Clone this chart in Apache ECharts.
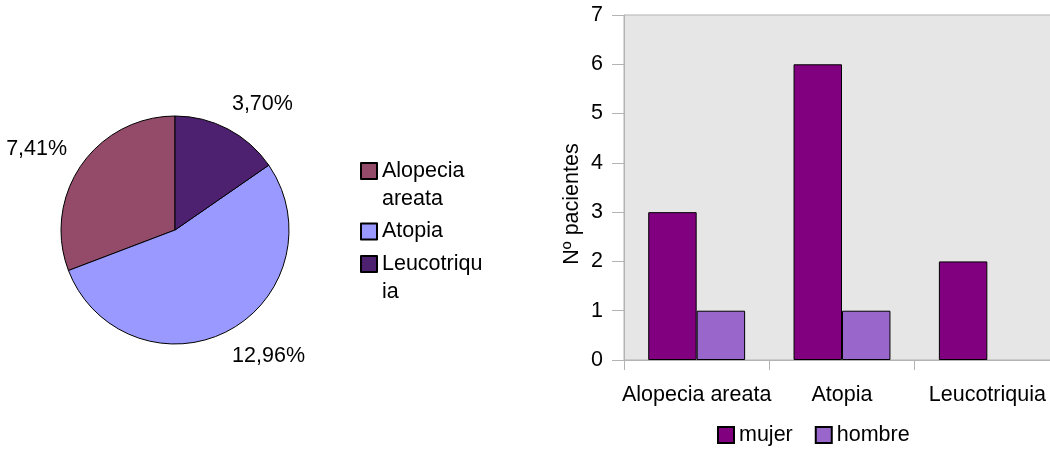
<!DOCTYPE html>
<html>
<head>
<meta charset="utf-8">
<script src="https://cdn.jsdelivr.net/npm/echarts@6/dist/echarts.min.js"></script>
<style>
  html, body { margin: 0; padding: 0; background: #ffffff; }
  #chart { width: 1050px; height: 452px; }
</style>
</head>
<body>
<div id="chart"></div>
<script>
// Pie: share of patients (%) per condition
const conditions = ['Alopecia areata', 'Atopia', 'Leucotriquia'];
const sharePct = [7.41, 12.96, 3.70];
const conditionColors = ['#944a69', '#9999ff', '#4e2070'];

// Bars: number of patients per condition and sex
const barCategories = ['Alopecia areata', 'Atopia', 'Leucotriquia'];
const mujer = [3, 6, 2];
const hombre = [1, 1, null];
const yTicks = [0, 1, 2, 3, 4, 5, 6, 7];

const FONT = '"Liberation Sans", Arial, sans-serif';
const FS = 21.5;
const LINE_H = 28;

// wrap long legend names onto two lines (at a space if possible)
function wrapName(name, maxChars) {
  if (name.length <= maxChars) return name;
  const cut = name.lastIndexOf(' ', maxChars);
  if (cut > 0) return name.slice(0, cut) + '\n' + name.slice(cut + 1);
  return name.slice(0, maxChars) + '\n' + name.slice(maxChars);
}

// one legend block per condition, stacked in the middle column;
// a wrapped name gets an empty leading line so its first line sits level with the swatch
const pieLegendTops = [129, 217.5, 222];
const pieLegends = conditions.map((c, i) => ({
  data: [c],
  orient: 'vertical',
  left: 360,
  top: pieLegendTops[i],
  padding: 0,
  itemWidth: 16,
  itemHeight: 16,
  icon: 'rect',
  formatter: (n) => {
    const w = wrapName(n, 10);
    return w.indexOf('\n') >= 0 ? '\n' + w : w;
  },
  textStyle: { fontSize: FS, color: '#000', lineHeight: LINE_H, fontFamily: FONT }
}));

const chart = echarts.init(document.getElementById('chart'), null, { renderer: 'canvas' });

chart.setOption({
  animation: false,
  backgroundColor: '#ffffff',
  textStyle: { fontFamily: FONT, color: '#000000' },
  legend: pieLegends.concat([
    {
      data: ['mujer', 'hombre'],
      orient: 'horizontal',
      left: 717,
      top: 424,
      padding: 0,
      itemGap: 22,
      itemWidth: 16,
      itemHeight: 16,
      icon: 'rect',
      textStyle: { fontSize: FS, color: '#000', fontFamily: FONT }
    }
  ]),
  grid: {
    left: 624,
    top: 15,
    width: 436,
    height: 345,
    outerBoundsMode: 'none',
    show: true,
    backgroundColor: '#e6e6e6',
    borderColor: '#b3b3b3',
    borderWidth: 1
  },
  xAxis: {
    type: 'category',
    data: barCategories,
    axisLine: { lineStyle: { color: '#b3b3b3', width: 1 } },
    axisTick: { show: true, length: 10, lineStyle: { color: '#b3b3b3' } },
    axisLabel: { fontSize: FS, color: '#000', margin: 24, interval: 0, fontFamily: FONT },
    splitLine: { show: false }
  },
  yAxis: {
    type: 'value',
    min: yTicks[0],
    max: yTicks[yTicks.length - 1],
    interval: 1,
    name: 'Nº pacientes',
    nameLocation: 'middle',
    nameGap: 41,
    nameTextStyle: { fontSize: FS, color: '#000', fontFamily: FONT, padding: [0, 33, 0, 0] },
    axisLine: { show: true, lineStyle: { color: '#b3b3b3', width: 1 } },
    axisTick: { show: true, length: 12, lineStyle: { color: '#b3b3b3' } },
    axisLabel: { fontSize: FS, color: '#000', margin: 21, fontFamily: FONT },
    splitLine: { show: false }
  },
  series: [
    {
      type: 'pie',
      name: 'Pacientes',
      center: [175, 230],
      radius: 114,
      startAngle: 90,
      clockwise: false,
      avoidLabelOverlap: false,
      data: conditions.map((c, i) => ({
        name: c,
        value: sharePct[i],
        itemStyle: { color: conditionColors[i] }
      })),
      itemStyle: { borderColor: '#000000', borderWidth: 1 },
      label: {
        show: true,
        position: 'outside',
        fontSize: FS,
        color: '#000',
        fontFamily: FONT,
        distanceToLabelLine: -9,
        formatter: (p) => p.value.toFixed(2).replace('.', ',') + '%'
      },
      labelLine: { show: false, length: 28, length2: 0 },
      emphasis: { disabled: true }
    },
    {
      type: 'bar',
      name: 'mujer',
      data: mujer,
      barGap: '0%',
      barCategoryGap: '33.33%',
      itemStyle: { color: '#800080', borderColor: '#000000', borderWidth: 1 }
    },
    {
      type: 'bar',
      name: 'hombre',
      data: hombre,
      itemStyle: { color: '#9966cc', borderColor: '#000000', borderWidth: 1 }
    }
  ]
});
</script>
</body>
</html>
